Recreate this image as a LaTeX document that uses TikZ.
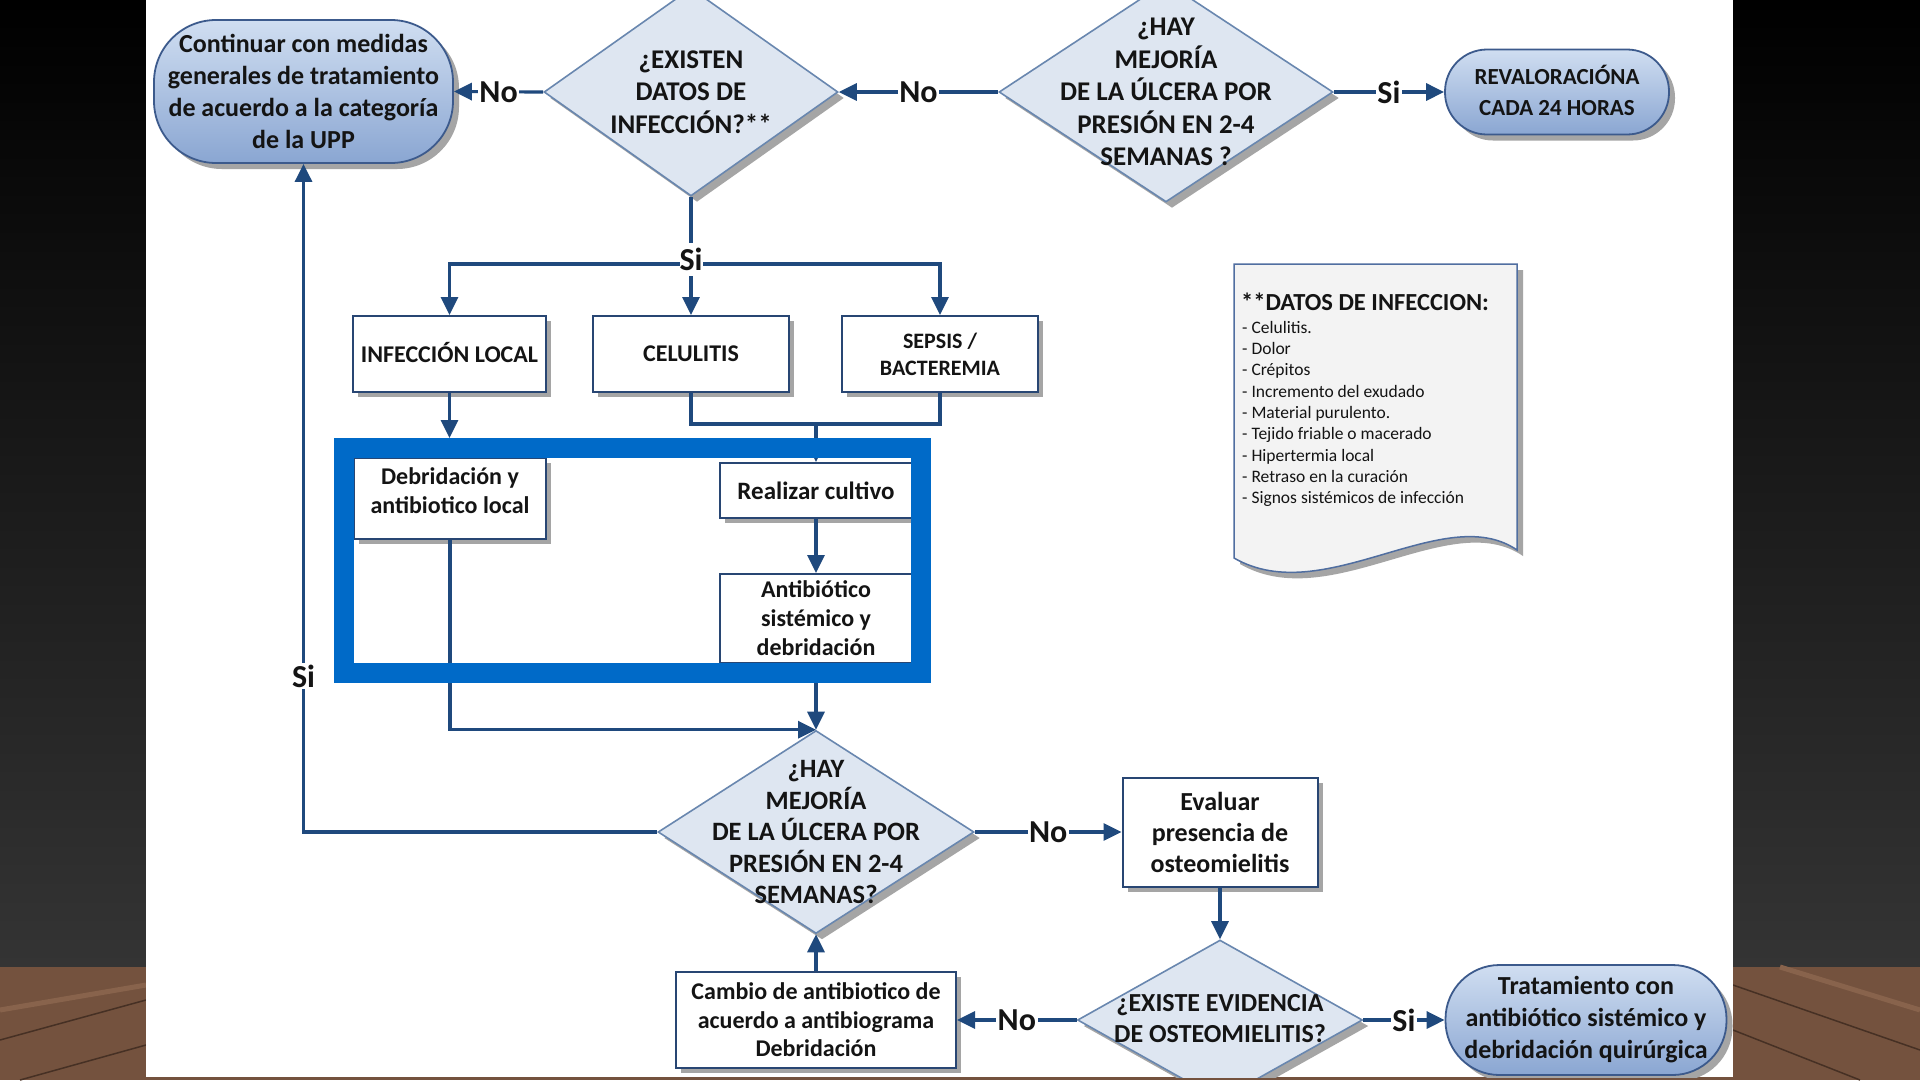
\documentclass[tikz,border=0pt]{standalone}
\usepackage{fontspec}
\setmainfont{Carlito}
\usetikzlibrary{arrows.meta,shapes.geometric,shadows,calc}
\definecolor{lc}{RGB}{31,73,125}
\definecolor{boxedge}{RGB}{40,70,115}
\definecolor{diafill}{RGB}{222,230,241}
\definecolor{diaedge}{RGB}{105,135,175}
\definecolor{sttop}{RGB}{208,222,241}
\definecolor{stbot}{RGB}{138,166,210}
\definecolor{stedge}{RGB}{60,90,140}
\definecolor{frameblue}{RGB}{0,106,200}
\definecolor{txt}{RGB}{20,20,20}
\definecolor{shadowc}{RGB}{165,165,165}
\definecolor{bgbot}{RGB}{52,52,52}
\definecolor{wood}{RGB}{116,82,62}
\definecolor{wooddark}{RGB}{70,48,36}
\definecolor{woodlight}{RGB}{136,99,76}
\definecolor{docfill}{RGB}{243,243,243}
\definecolor{docedge}{RGB}{80,110,160}
\newcommand{\myfs}[2]{\fontsize{#1}{#2}\selectfont\bfseries}
\begin{document}
\begin{tikzpicture}[x=1pt,y=-1pt,
  conn/.style={draw=lc, line width=3.2pt, -{Triangle[length=18pt,width=17pt]}},
  pline/.style={draw=lc, line width=3.2pt},
  pbox/.style={rectangle, draw=boxedge, line width=2pt, fill=white, inner sep=1pt,
    align=center, text=txt, font=\myfs{24}{29},
    drop shadow={shadow xshift=5pt, shadow yshift=-5pt, fill=shadowc, opacity=1}},
  dia/.style={diamond, draw=diaedge, line width=1.6pt, fill=diafill, inner sep=0pt,
    drop shadow={shadow xshift=6pt, shadow yshift=-6pt, fill=shadowc, opacity=1}},
  stad/.style={rectangle, rounded corners=#1, draw=stedge, line width=1.8pt,
    top color=sttop, bottom color=stbot, inner sep=0pt, align=center, text=txt,
    drop shadow={shadow xshift=6pt, shadow yshift=-6pt, fill=shadowc, opacity=1}},
  dtext/.style={align=center, text=txt, inner sep=0pt, font=\myfs{27}{32.5}},
  lbl/.style={fill=white, inner xsep=1.5pt, inner ysep=2pt, text=txt, font=\myfs{32}{36}},
]
\useasboundingbox (0,0) rectangle (1920,1080);
% ---- slide background ----
\shade[top color=black, bottom color=bgbot] (0,0) rectangle (146,967);
\shade[top color=black, bottom color=bgbot] (1733,0) rectangle (1920,967);
\fill[wood] (0,967) rectangle (1920,1080);
\draw[woodlight, line width=5pt] (0,1010) -- (146,985);
\draw[wooddark, line width=1.5pt] (0,1040) -- (146,1000);
\draw[wooddark, line width=1.5pt] (20,1080) -- (146,1045);
\draw[wooddark, line width=1.5pt] (1733,985) -- (1920,1050);
\draw[woodlight, line width=5pt] (1780,967) -- (1920,1010);
\draw[wooddark, line width=1.5pt] (1733,1030) -- (1860,1080);
\fill[white] (146,0) rectangle (1733,1077);

\begin{scope}
\clip (146,0) rectangle (1733,1077);
% ---- terminals ----
\node[stad=62pt, minimum width=299pt, minimum height=143pt, font=\myfs{26}{32}] (st1) at (303.5,91.5)
  {Continuar con medidas\\generales de tratamiento\\de acuerdo a la categoría\\de la UPP};
\node[stad=42pt, minimum width=224pt, minimum height=85pt, font=\myfs{23}{31}] (st2) at (1557,92)
  {REVALORACIÓNA\\CADA 24 HORAS\rule[-4pt]{0pt}{1pt}};
\node[stad=54pt, minimum width=281pt, minimum height=110pt, font=\myfs{26}{32}] (st3) at (1586,1020)
  {Tratamiento con\\antibiótico sistémico y\\debridación quirúrgica};
% ---- decisions ----
\node[dia, minimum width=294pt, minimum height=208pt] (d1) at (691,92) {};
\node[dtext] (t1) at (d1) {¿EXISTEN\\DATOS DE\\INFECCIÓN?**};
\node[dia, minimum width=334pt, minimum height=220pt] (d2) at (1166,92) {};
\node[dtext] (t2) at (d2) {¿HAY\\MEJORÍA\\DE LA ÚLCERA POR\\PRESIÓN EN 2-4\\SEMANAS ?};
\node[dia, minimum width=316pt, minimum height=203pt] (d3) at (816,832) {};
\node[dtext, font=\myfs{26.5}{31.5}] (t3) at (d3) {¿HAY\\MEJORÍA\\DE LA ÚLCERA POR\\PRESIÓN EN 2-4\\SEMANAS?};
\node[dia, minimum width=285pt, minimum height=160pt] (d4) at (1220,1020) {};
\node[dtext, font=\myfs{26}{31}] (t4) at (d4) {¿EXISTE EVIDENCIA\\DE OSTEOMIELITIS?\rule[-4pt]{0pt}{1pt}};
% ---- process boxes ----
\node[pbox, minimum width=193pt, minimum height=76pt] (inf) at (449.5,354) {INFECCIÓN LOCAL\rule[-3pt]{0pt}{1pt}};
\node[pbox, minimum width=196pt, minimum height=76pt] (cel) at (691,354) {CELULITIS};
\node[pbox, minimum width=196pt, minimum height=76pt, font=\myfs{22}{27}] (sep) at (940,354) {SEPSIS /\\BACTEREMIA};
\node[pbox, minimum width=192pt, minimum height=81pt] (debr) at (450,498.5) {Debridación y\\antibiotico local\rule[-16pt]{0pt}{1pt}};
\node[pbox, minimum width=192pt, minimum height=55pt, font=\myfs{25}{30}] (real) at (816,490.5) {Realizar cultivo};
\node[pbox, minimum width=192pt, minimum height=89pt] (anti) at (816,618.5) {Antibiótico\\sistémico y\\debridación};
\node[pbox, minimum width=195pt, minimum height=109pt, font=\myfs{26}{31}] (eval) at (1220,832) {Evaluar\\presencia de\\osteomielitis};
\node[pbox, minimum width=280pt, minimum height=96pt, font=\myfs{24}{28.5}] (camb) at (816,1020) {Cambio de antibiotico de\\acuerdo a antibiograma\\Debridación};
% ---- document note ----
\fill[shadowc] (1240,270) -- (1523,270) -- (1523,556) .. controls (1450,506) and (1330,616) .. (1240,564) -- cycle;
\draw[docedge, line width=1.5pt, fill=docfill] (1234,264) -- (1517,264) -- (1517,550)
  .. controls (1444,500) and (1324,610) .. (1234,558) -- cycle;
\node[anchor=west, font=\myfs{24.5}{28}, text=txt, inner sep=0pt] (dtitle) at (1241,302) {**DATOS DE INFECCION:};
\node[anchor=north west, align=left, font=\fontsize{17.5}{21.3}\selectfont, text=txt, inner sep=0pt] (dlist) at (1242,321)
  {- Celulitis.\\- Dolor\\- Crépitos\\- Incremento del exudado\\- Material purulento.\\- Tejido friable o macerado\\- Hipertermia local\\- Retraso en la curación\\- Signos sistémicos de infección};
% ---- connectors ----
\draw[conn] (d1.west) -- (st1.east) node[lbl, midway] (lno1) {No};
\draw[conn] (d2.west) -- (d1.east) node[lbl, midway] (lno2) {No};
\draw[conn] (d2.east) -- (st2.west) node[lbl, midway] (lsi1) {Si};
\coordinate (bar) at (691,264);
\draw[conn] (bar) -| (inf.north);
\draw[conn] (bar) -| (sep.north);
\draw[conn] (d1.south) -- (cel.north) node[lbl, pos=0.53, inner ysep=5pt, inner xsep=0pt] (lsi2) {Si};
\coordinate (jn) at (816,424);
\draw[pline] (cel.south) |- (jn) -| (sep.south);
\draw[conn] (jn) -- (real.north);
\draw[conn] (real.south) -- (anti.north);
\draw[conn] (debr.south) |- (d3.north);
\draw[conn] (anti.south) -- (d3.north);
% ---- blue frame ----
\node[draw=frameblue, line width=20pt, minimum width=577pt, minimum height=225pt, inner sep=0pt] (frame) at (632.5,560.5) {};
\coordinate (frtop) at (449.5,438);
\draw[conn] (inf.south) -- (frtop);
\draw[conn] (d3.west) -| (st1.south);
\node[lbl] (lsi3) at (303.5,676) {Si};
\draw[conn] (d3.east) -- (eval.west) node[lbl, midway] (lno3) {No};
\draw[conn] (eval.south) -- (d4.north);
\draw[conn] (d4.west) -- (camb.east) node[lbl, midway] (lno4) {No};
\draw[conn] (camb.north) -- (d3.south);
\draw[conn] (d4.east) -- (st3.west) node[lbl, midway] (lsi4) {Si};
\end{scope}
\end{tikzpicture}
\end{document}
